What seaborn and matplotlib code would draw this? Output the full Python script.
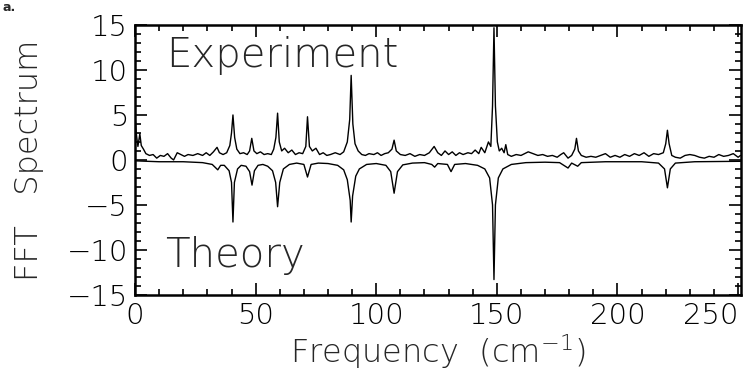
import pandas as pd
import matplotlib
matplotlib.use('Agg')
import matplotlib.pyplot as plt
import seaborn as sns
from matplotlib.ticker import MultipleLocator

# experiment trace (frequency in cm^-1, FFT amplitude)
exp_freq = [0.0, 0.5, 1.2, 2.0, 2.6, 3.5, 4.5, 6, 7.5, 9, 10.5, 12, 13.5, 15, 16,
            17.5, 19, 20.5, 22, 24, 26, 28, 29.5, 31, 32.5, 34, 35, 36.5, 38,
            39.3, 40.0, 40.6, 41.3, 42.2, 43.5, 45, 46.5, 47.5, 48.4, 49.3, 50.5,
            52, 53.5, 55, 56.5, 57.5, 58.4, 59.1, 59.8, 60.8, 62, 63.5, 65, 66.5,
            68, 69.5, 70.8, 71.5, 72.3, 73.5, 75, 76.5, 78, 79.5, 81, 83, 85,
            86.5, 88, 89.0, 89.6, 90.3, 91.2, 92.5, 94, 95.5, 97, 99, 100.5, 102,
            103.5, 105, 106.5, 107.4, 108.3, 110, 112, 114, 116, 118, 120, 122,
            124, 125.5, 127, 128.5, 130, 131.5, 133, 134.5, 136, 138, 139.5, 141,
            142.5, 143.5, 145, 146.5, 147.5, 148.2, 148.8, 149.4, 150.2, 151, 152,
            153, 153.7, 154.5, 156, 158, 160, 161.5, 163, 165, 167, 169, 171, 173,
            175, 176.5, 177.7, 179.5, 181, 182.3, 183, 183.8, 185, 187, 189, 191,
            193, 195, 197, 199, 201, 203, 205, 207, 209, 211, 213, 215, 217, 219,
            220.0, 220.7, 221.4, 222.5, 224, 226, 228, 230, 232, 234, 236, 238,
            240, 242, 244, 246, 248, 250, 251]
exp_amp = [5.0, 3.0, 1.5, 2.9, 1.6, 1.2, 0.7, 0.5, 0.6, 0.2, 0.5, 0.4, 0.7, 0.2, 0.0,
           0.8, 0.6, 0.4, 0.6, 0.5, 0.7, 0.5, 0.8, 0.5, 0.9, 1.4, 0.8, 0.6, 0.8,
           1.6, 3.0, 5.0, 2.5, 1.2, 0.7, 0.8, 0.6, 1.0, 2.4, 1.0, 0.7,
           0.9, 0.6, 0.7, 0.6, 1.2, 2.5, 5.2, 2.0, 1.0, 1.3, 0.8, 1.1, 0.6,
           0.8, 0.7, 1.5, 4.8, 1.5, 1.0, 1.3, 0.6, 0.8, 0.5, 0.6, 0.8, 0.6,
           0.9, 2.0, 4.5, 9.4, 4.0, 1.8, 1.0, 0.6, 0.5, 0.7, 0.6, 0.8, 0.5,
           0.7, 0.8, 1.2, 2.2, 1.0, 0.6, 0.5, 0.7, 0.4, 0.6, 0.5, 0.8,
           1.5, 0.8, 0.5, 1.0, 0.6, 0.9, 0.5, 0.8, 0.6, 0.8, 0.7, 1.1,
           0.7, 1.4, 0.8, 2.0, 1.5, 6.0, 14.7, 6.0, 2.0, 1.0, 1.3,
           0.8, 1.7, 0.6, 0.4, 0.6, 0.5, 0.7, 0.9, 0.7, 0.5, 0.6, 0.4, 0.5,
           0.3, 0.6, 0.8, 0.2, 0.5, 1.2, 2.4, 1.0, 0.5, 0.3, 0.4, 0.3,
           0.5, 0.7, 0.3, 0.5, 0.3, 0.6, 0.4, 0.7, 0.5, 0.8, 0.4, 0.7, 0.6, 0.8,
           1.8, 3.3, 1.8, 0.5, 0.3, 0.2, 0.5, 0.6, 0.5, 0.3, 0.2, 0.4,
           0.3, 0.6, 0.4, 0.5, 0.7, 0.3, 0.5]

# theory trace (plotted negative)
th_freq = [0, 5, 10, 20, 28, 32, 34.3, 35.5, 37, 39, 40, 40.6, 41.2, 42.5, 44, 46,
           47.5, 48.5, 49.5, 51, 53, 55, 57, 58.3, 59.1, 60, 61.5, 64, 67, 70,
           71.5, 73, 76, 80, 84, 86.5, 88, 89.2, 89.6, 90.2, 91.5, 93, 96, 100,
           104, 106, 107.4, 108.8, 111, 115, 120, 123, 124.2, 125.5, 129.5, 131,
           132.5, 137, 142, 145, 147, 148.2, 148.8, 149.4, 150.6, 152.5, 156,
           162, 170, 176, 179.5, 181, 183.5, 185, 195, 210, 217, 219.5, 220.7,
           221.9, 224, 232, 251]
th_amp = [-0.1, -0.15, -0.2, -0.2, -0.3, -0.5, -1.1, -0.6, -0.6, -1.2, -2.5, -6.9,
          -2.5, -1.0, -0.6, -0.7, -1.3, -2.8, -1.2, -0.6, -0.5, -0.7, -1.2, -2.5,
          -5.2, -2.5, -1.0, -0.5, -0.35, -0.5, -1.9, -0.5, -0.35, -0.4, -0.6,
          -1.1, -2.2, -4.5, -6.9, -4.0, -1.8, -1.0, -0.5, -0.4, -0.6, -1.3, -3.7,
          -1.3, -0.55, -0.35, -0.3, -0.5, -0.8, -0.4, -0.5, -1.3, -0.5, -0.4,
          -0.6, -1.0, -2.0, -5.0, -13.3, -5.0, -2.0, -1.0, -0.5, -0.3, -0.25,
          -0.3, -0.9, -0.35, -0.7, -0.3, -0.2, -0.2, -0.35, -1.0, -3.1, -1.0,
          -0.35, -0.2, -0.15]

x_ticks = [0, 50, 100, 150, 200, 250]
y_ticks = [-15, -10, -5, 0, 5, 10, 15]

sns.set_style('ticks')
plt.rcParams['font.family'] = ['DejaVu Sans']
plt.rcParams['font.weight'] = 200
plt.rcParams['mathtext.default'] = 'regular'

exp_df = pd.DataFrame({'freq': exp_freq, 'amp': exp_amp})
th_df = pd.DataFrame({'freq': th_freq, 'amp': th_amp})

fig = plt.figure(figsize=(7.48, 3.79), dpi=100)
ax = fig.add_axes([0.1805, 0.222, 0.8095, 0.712])

sns.lineplot(data=exp_df, x='freq', y='amp', color='black', lw=1.0, ax=ax)
sns.lineplot(data=th_df, x='freq', y='amp', color='black', lw=1.0, ax=ax)

ax.set_xlim(0, 251)
ax.set_ylim(-15, 15)
ax.set_xticks(x_ticks)
ax.set_yticks(y_ticks)
ax.xaxis.set_minor_locator(MultipleLocator(10))
ax.yaxis.set_minor_locator(MultipleLocator(1))
ax.tick_params(which='both', direction='in', top=True, right=True,
               width=1.2, labelsize=21, labelcolor='black', color='black')
ax.tick_params(which='major', length=8.5, pad=5)
ax.tick_params(which='minor', length=4.5)
for lab in ax.get_xticklabels():
    lab.set_fontweight(200)
for lab in ax.get_yticklabels():
    lab.set_fontweight(200)
ax.get_xticklabels()[-1].set_ha('right')
for sp in ax.spines.values():
    sp.set_linewidth(1.8)
    sp.set_color('black')

ax.set_xlabel('Frequency  (cm$^{-1}$)', fontsize=23, fontweight=200, labelpad=2)
ax.set_ylabel('FFT   Spectrum', fontsize=23, fontweight=200, labelpad=16)

ax.text(13, 10.3, 'Experiment', fontsize=29, fontweight=200, ha='left', va='baseline')
ax.text(12.4, -11.9, 'Theory', fontsize=29, fontweight=200, ha='left', va='baseline')

fig.text(0.003, 0.998, 'a.', fontsize=9, fontweight='bold', va='top', ha='left')

fig.savefig('out.png', dpi=100)
